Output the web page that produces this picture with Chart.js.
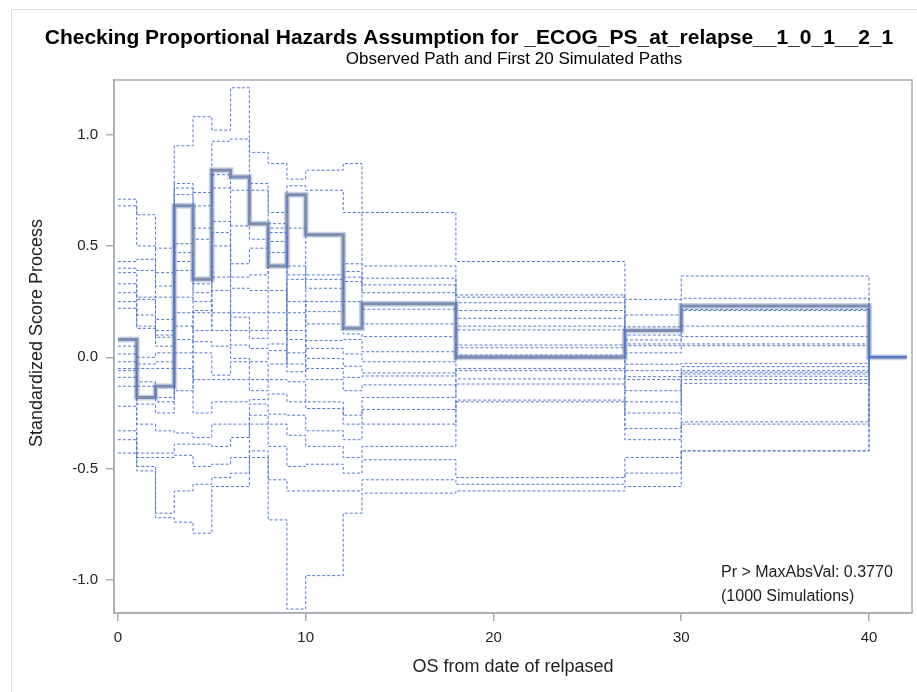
<!DOCTYPE html>
<html>
<head>
<meta charset="utf-8">
<title>Proportional Hazards Check</title>
<script src="https://cdn.jsdelivr.net/npm/chart.js@4.4.1/dist/chart.umd.min.js"></script>
<style>
  html, body { margin: 0; padding: 0; background: #fff; }
  #wrap { width: 917px; height: 692px; position: relative; }
</style>
</head>
<body>
<div id="wrap"><canvas id="ph-chart" width="917" height="692"></canvas></div>
<script>
// Event times where the score process jumps (last point closes the final step)
const eventTimes = [0, 1, 2, 3, 4, 5, 6, 7, 8, 9, 10, 12, 13, 18, 27, 30, 40, 42];

// Observed standardized score process
const observedPath = [0.08, -0.18, -0.13, 0.68, 0.35, 0.84, 0.81, 0.60, 0.41, 0.73, 0.55, 0.13, 0.24, 0.00, 0.12, 0.23, 0.00, 0.00];

// First 20 simulated paths
const simPath01 = [0.71, 0.64, 0.49, 0.95, 1.08, 1.02, 1.21, 0.92, 0.87, 0.80, 0.84, 0.87, 0.65, 0.43, 0.26, 0.365, 0, 0];
const simPath02 = [0.68, 0.50, 0.38, 0.78, 0.74, 0.97, 0.98, 0.78, 0.65, 0.77, 0.75, 0.65, 0.41, 0.28, 0.19, 0.265, 0, 0];
const simPath03 = [0.43, 0.44, 0.32, 0.76, 0.68, 0.82, 0.75, 0.75, 0.60, 0.58, 0.37, 0.42, 0.355, 0.27, 0.137, 0.215, 0, 0];
const simPath04 = [0.40, 0.39, 0.27, 0.73, 0.58, 0.76, 0.59, 0.53, 0.58, 0.41, 0.35, 0.385, 0.325, 0.043, 0.10, 0.21, 0, 0];
const simPath05 = [0.38, 0.27, 0.17, 0.51, 0.53, 0.61, 0.42, 0.49, 0.56, 0.37, 0.31, 0.36, 0.29, 0.21, 0.078, 0.14, 0, 0];
const simPath06 = [0.33, 0.26, 0.12, 0.47, 0.33, 0.56, 0.36, 0.37, 0.52, -0.065, 0.25, 0.34, 0.216, 0.175, 0.06, 0.093, 0, 0];
const simPath07 = [0.29, 0.19, 0.10, 0.43, 0.29, 0.50, 0.31, 0.30, 0.47, 0.25, 0.205, 0.25, 0.15, 0.14, 0.052, 0.06, 0, 0];
const simPath08 = [0.25, 0.14, 0.09, 0.39, 0.25, 0.12, 0.20, 0.20, 0.30, 0.20, 0.15, 0.105, 0.093, 0.123, 0.02, 0.052, 0, 0];
const simPath09 = [0.22, 0.13, 0.05, -0.15, 0.21, 0.30, 0.18, 0.12, 0.20, 0.12, 0.075, 0.08, 0.025, 0.055, -0.031, -0.027, 0, 0];
const simPath10 = [0.05, 0.00, 0.02, 0.20, 0.20, 0.20, 0.12, 0.085, 0.12, 0.08, 0.04, 0.015, -0.02, 0.245, -0.06, -0.042, 0, 0];
const simPath11 = [0.015, -0.03, -0.02, 0.14, 0.12, 0.36, 0.055, 0.04, 0.06, 0.02, -0.005, -0.04, -0.07, 0.01, -0.087, -0.06, 0, 0];
const simPath12 = [-0.02, -0.05, -0.05, 0.08, 0.07, 0.05, -0.005, -0.02, 0.03, -0.03, -0.05, -0.09, -0.084, -0.05, -0.10, -0.067, 0, 0];
const simPath13 = [-0.05, -0.11, -0.18, 0.02, 0.02, -0.08, -0.02, -0.10, -0.03, 0.35, -0.10, -0.15, -0.124, -0.06, -0.15, -0.075, 0, 0];
const simPath14 = [-0.06, -0.13, -0.20, -0.05, -0.10, -0.10, -0.10, -0.15, -0.10, -0.11, -0.20, -0.26, -0.18, -0.097, -0.20, -0.085, 0, 0];
const simPath15 = [-0.09, -0.21, -0.25, 0.27, -0.25, -0.20, -0.20, -0.19, -0.165, -0.20, -0.23, -0.30, -0.234, -0.12, -0.25, -0.10, 0, 0];
const simPath16 = [-0.13, -0.30, -0.33, -0.34, -0.36, -0.30, -0.30, -0.21, -0.255, -0.26, -0.33, -0.37, -0.30, -0.192, -0.32, -0.117, 0, 0];
const simPath17 = [-0.22, -0.43, -0.43, -0.39, -0.39, -0.40, -0.36, -0.26, -0.30, -0.35, -0.40, -0.45, -0.40, -0.20, -0.37, -0.29, 0, 0];
const simPath18 = [-0.33, -0.45, -0.45, -0.44, -0.49, -0.48, -0.45, -0.30, -0.40, -0.49, -0.48, -0.52, -0.46, -0.54, -0.45, -0.30, 0, 0];
const simPath19 = [-0.37, -0.49, -0.70, -0.60, -0.57, -0.54, -0.52, -0.42, -0.55, -0.60, -0.60, -0.60, -0.55, -0.57, -0.52, -0.42, 0, 0];
const simPath20 = [-0.43, -0.51, -0.72, -0.74, -0.79, -0.58, -0.58, -0.45, -0.73, -1.13, -0.98, -0.70, -0.61, -0.60, -0.58, -0.42, 0, 0];

const simulatedPaths = [
    simPath01, simPath02, simPath03, simPath04, simPath05,
    simPath06, simPath07, simPath08, simPath09, simPath10,
    simPath11, simPath12, simPath13, simPath14, simPath15,
    simPath16, simPath17, simPath18, simPath19, simPath20
];

// Axis tick positions
const xTickValues = [0, 10, 20, 30, 40];
const yTickValues = [-1.0, -0.5, 0.0, 0.5, 1.0];

const pValueText = 'Pr > MaxAbsVal: 0.3770';
const simCountText = '(1000 Simulations)';

const FONT = '"Liberation Sans", Arial, Helvetica, sans-serif';
const FRAME_COLOR = '#a9adb2';

function toPoints(values) {
    return values.map((v, i) => ({ x: eventTimes[i], y: v }));
}

// Titles, axis labels, plot frame and inset text
const decorPlugin = {
    id: 'decor',
    afterDraw(chart) {
        const { ctx, chartArea: a } = chart;
        ctx.save();

        // light outer border of the graph
        ctx.strokeStyle = '#dcdcdc';
        ctx.lineWidth = 1;
        ctx.beginPath();
        ctx.moveTo(11.5, 692);
        ctx.lineTo(11.5, 9.5);
        ctx.lineTo(917, 9.5);
        ctx.stroke();

        // plot frame
        ctx.strokeStyle = FRAME_COLOR;
        ctx.lineWidth = 1.5;
        ctx.strokeRect(a.left, a.top, a.right - a.left, a.bottom - a.top);

        ctx.fillStyle = '#000';
        ctx.textAlign = 'center';
        ctx.textBaseline = 'middle';
        ctx.font = 'bold 21px ' + FONT;
        ctx.fillText('Checking Proportional Hazards Assumption for _ECOG_PS_at_relapse__1_0_1__2_1', 469, 38);
        ctx.font = '17px ' + FONT;
        ctx.fillText('Observed Path and First 20 Simulated Paths', 514, 59);

        ctx.fillStyle = '#222';
        ctx.font = '18px ' + FONT;
        ctx.fillText('OS from date of relpased', 513, 667);

        ctx.save();
        ctx.translate(37, 333);
        ctx.rotate(-Math.PI / 2);
        ctx.fillText('Standardized Score Process', 0, 0);
        ctx.restore();

        ctx.textAlign = 'left';
        ctx.font = '16px ' + FONT;
        ctx.fillText(pValueText, 721, 573);
        ctx.fillText(simCountText, 721, 597);

        ctx.restore();
    }
};

function buildChart() {
    const datasets = simulatedPaths.map((path, i) => ({
        label: 'Simulated ' + (i + 1),
        data: toPoints(path),
        stepped: 'before',
        borderColor: '#5577cc',
        borderWidth: 1,
        borderDash: [3, 2],
        pointRadius: 0,
        fill: false
    }));

    // soft halo under the observed path
    datasets.push({
        label: 'Observed halo',
        data: toPoints(observedPath),
        stepped: 'before',
        borderColor: 'rgba(140, 158, 192, 0.45)',
        borderWidth: 6,
        pointRadius: 0,
        fill: false
    });
    datasets.push({
        label: 'Observed',
        data: toPoints(observedPath),
        stepped: 'before',
        borderColor: '#6d80a4',
        borderWidth: 3,
        pointRadius: 0,
        fill: false
    });

    const ctx = document.getElementById('ph-chart').getContext('2d');
    new Chart(ctx, {
        type: 'line',
        data: { datasets: datasets },
        options: {
            responsive: false,
            animation: false,
            events: [],
            layout: { padding: { top: 80, right: 5, left: 0, bottom: 0 } },
            plugins: {
                legend: { display: false },
                tooltip: { enabled: false },
                title: { display: false }
            },
            scales: {
                x: {
                    type: 'linear',
                    min: -0.21,
                    max: 42.29,
                    afterFit: s => { s.height = 79; },
                    afterBuildTicks: s => { s.ticks = xTickValues.map(v => ({ value: v })); },
                    grid: { drawOnChartArea: false, drawTicks: true, tickLength: 8, color: FRAME_COLOR, lineWidth: 1.5 },
                    border: { display: true, color: FRAME_COLOR, width: 1.5 },
                    ticks: {
                        padding: 8,
                        maxRotation: 0,
                        color: '#222',
                        font: { family: FONT, size: 15 },
                        callback: v => String(v)
                    }
                },
                y: {
                    type: 'linear',
                    min: -1.148,
                    max: 1.245,
                    afterFit: s => { s.width = 114; },
                    afterBuildTicks: s => { s.ticks = yTickValues.map(v => ({ value: v })); },
                    grid: { drawOnChartArea: false, drawTicks: true, tickLength: 8, color: FRAME_COLOR, lineWidth: 1.5 },
                    border: { display: true, color: FRAME_COLOR, width: 1.5 },
                    ticks: {
                        padding: 8,
                        color: '#222',
                        font: { family: FONT, size: 15 },
                        callback: v => v.toFixed(1)
                    }
                }
            }
        },
        plugins: [decorPlugin]
    });
}

document.addEventListener('DOMContentLoaded', buildChart);
</script>
</body>
</html>
